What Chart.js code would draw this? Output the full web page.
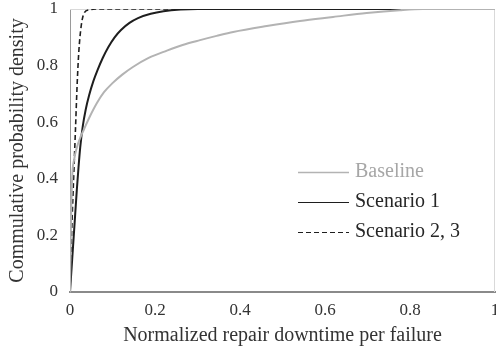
<!DOCTYPE html>
<html>
<head>
<meta charset="utf-8">
<script src="https://cdn.jsdelivr.net/npm/chart.js@4/dist/chart.umd.min.js"></script>
<style>
  html, body { margin: 0; padding: 0; background: #ffffff; }
  canvas { display: block; }
</style>
</head>
<body>
<canvas id="cdf" width="496" height="352"></canvas>
<script>
// Cumulative distributions of normalized repair downtime per failure
const seriesNames = ["Baseline", "Scenario 1", "Scenario 2, 3"];

const baselineX = [0, 0.002, 0.005, 0.01, 0.016, 0.024, 0.033, 0.045, 0.063, 0.08, 0.1, 0.123, 0.148, 0.185, 0.228, 0.265, 0.306, 0.345, 0.384, 0.463, 0.541, 0.619, 0.698, 0.776, 0.83, 0.9, 1];
const baselineY = [0, 0.22, 0.40, 0.47, 0.51, 0.545, 0.575, 0.615, 0.667, 0.706, 0.738, 0.768, 0.795, 0.827, 0.853, 0.873, 0.89, 0.905, 0.919, 0.94, 0.958, 0.972, 0.986, 0.996, 1, 1, 1];

const scenario1X = [0, 0.004, 0.008, 0.012, 0.016, 0.02, 0.024, 0.03, 0.037, 0.045, 0.055, 0.065, 0.077, 0.09, 0.105, 0.12, 0.14, 0.16, 0.19, 0.22, 0.26, 0.3, 1];
const scenario1Y = [0, 0.09, 0.18, 0.27, 0.36, 0.44, 0.51, 0.585, 0.645, 0.695, 0.745, 0.785, 0.827, 0.865, 0.9, 0.926, 0.951, 0.968, 0.983, 0.992, 0.998, 1, 1];

const scenario23X = [0, 0.002, 0.005, 0.009, 0.013, 0.017, 0.021, 0.026, 0.033, 0.045, 0.06, 1];
const scenario23Y = [0, 0.12, 0.26, 0.42, 0.58, 0.74, 0.855, 0.936, 0.985, 0.997, 1, 1];

const tickValues = [0, 0.2, 0.4, 0.6, 0.8, 1];

const toPoints = (xs, ys) => xs.map((x, i) => ({ x: x, y: ys[i] }));
const tickText = v => String(Number(v.toFixed(1)));

Chart.defaults.font.family = "'Liberation Serif', 'Times New Roman', serif";
Chart.defaults.color = "#333333";

// Thin frame around the plotting area
const plotFrame = {
  id: 'plotFrame',
  beforeDatasetsDraw(chart) {
    const a = chart.chartArea, ctx = chart.ctx;
    ctx.save();
    ctx.strokeStyle = '#d9d9d9';
    ctx.lineWidth = 1;
    ctx.beginPath();
    ctx.moveTo(a.left, a.top + 0.5);
    ctx.lineTo(a.right - 0.5, a.top + 0.5);
    ctx.lineTo(a.right - 0.5, a.bottom);
    ctx.stroke();
    ctx.restore();
  }
};

// Legend drawn inside the plotting area, text coloured like each line
const innerLegend = {
  id: 'innerLegend',
  afterDatasetsDraw(chart) {
    const ctx = chart.ctx;
    const x0 = 298, x1 = 349, tx = 355;
    const rows = [172, 202, 232];
    ctx.save();
    ctx.font = "20px 'Liberation Serif', serif";
    ctx.textBaseline = 'middle';
    chart.data.datasets.forEach((ds, i) => {
      const y = rows[i];
      ctx.strokeStyle = ds.borderColor;
      ctx.lineWidth = ds.legendLineWidth;
      ctx.setLineDash(ds.borderDash || []);
      ctx.beginPath();
      ctx.moveTo(x0, y + 0.5);
      ctx.lineTo(x1, y + 0.5);
      ctx.stroke();
      ctx.setLineDash([]);
      ctx.fillStyle = ds.legendTextColor;
      ctx.fillText(ds.label, tx, y);
    });
    ctx.restore();
  }
};

new Chart(document.getElementById('cdf'), {
  type: 'line',
  data: {
    datasets: [
      {
        label: seriesNames[0],
        data: toPoints(baselineX, baselineY),
        borderColor: '#b3b3b3',
        borderWidth: 2,
        legendLineWidth: 1.5,
        legendTextColor: '#a6a6a6',
        pointRadius: 0,
        cubicInterpolationMode: 'monotone'
      },
      {
        label: seriesNames[1],
        data: toPoints(scenario1X, scenario1Y),
        borderColor: '#1e1e1e',
        borderWidth: 2,
        legendLineWidth: 1.2,
        legendTextColor: '#262626',
        pointRadius: 0,
        cubicInterpolationMode: 'monotone'
      },
      {
        label: seriesNames[2],
        data: toPoints(scenario23X, scenario23Y),
        borderColor: '#1e1e1e',
        borderWidth: 1.6,
        borderDash: [5, 3],
        legendLineWidth: 1.2,
        legendTextColor: '#262626',
        pointRadius: 0,
        cubicInterpolationMode: 'monotone'
      }
    ]
  },
  options: {
    responsive: false,
    animation: false,
    layout: { padding: { top: 9, right: 1, left: 0, bottom: 0 } },
    plugins: {
      legend: { display: false },
      tooltip: { enabled: false }
    },
    scales: {
      x: {
        type: 'linear',
        min: 0,
        max: 1,
        afterBuildTicks: s => { s.ticks = tickValues.map(v => ({ value: v })); },
        afterFit: s => { s.height = 60; s.paddingLeft = 0; s.paddingRight = 0; },
        grid: { display: false, drawTicks: false },
        border: { display: true, color: '#8a8a8a', width: 2 },
        ticks: { font: { size: 17 }, padding: 8, maxRotation: 0, autoSkip: false, callback: tickText },
        title: {
          display: true,
          text: 'Normalized repair downtime per failure',
          font: { size: 20 },
          padding: { top: 0, bottom: 4 }
        }
      },
      y: {
        min: 0,
        max: 1,
        afterBuildTicks: s => { s.ticks = tickValues.map(v => ({ value: v })); },
        afterFit: s => { s.width = 70; s.paddingTop = 0; s.paddingBottom = 0; },
        grid: { display: false, drawTicks: false },
        border: { display: true, color: '#9a9a9a', width: 1 },
        ticks: { font: { size: 17 }, padding: 12, callback: tickText },
        title: {
          display: true,
          text: 'Commulative probability density',
          font: { size: 20 },
          padding: { top: 6, bottom: 0 }
        }
      }
    }
  },
  plugins: [plotFrame, innerLegend]
});
</script>
</body>
</html>
